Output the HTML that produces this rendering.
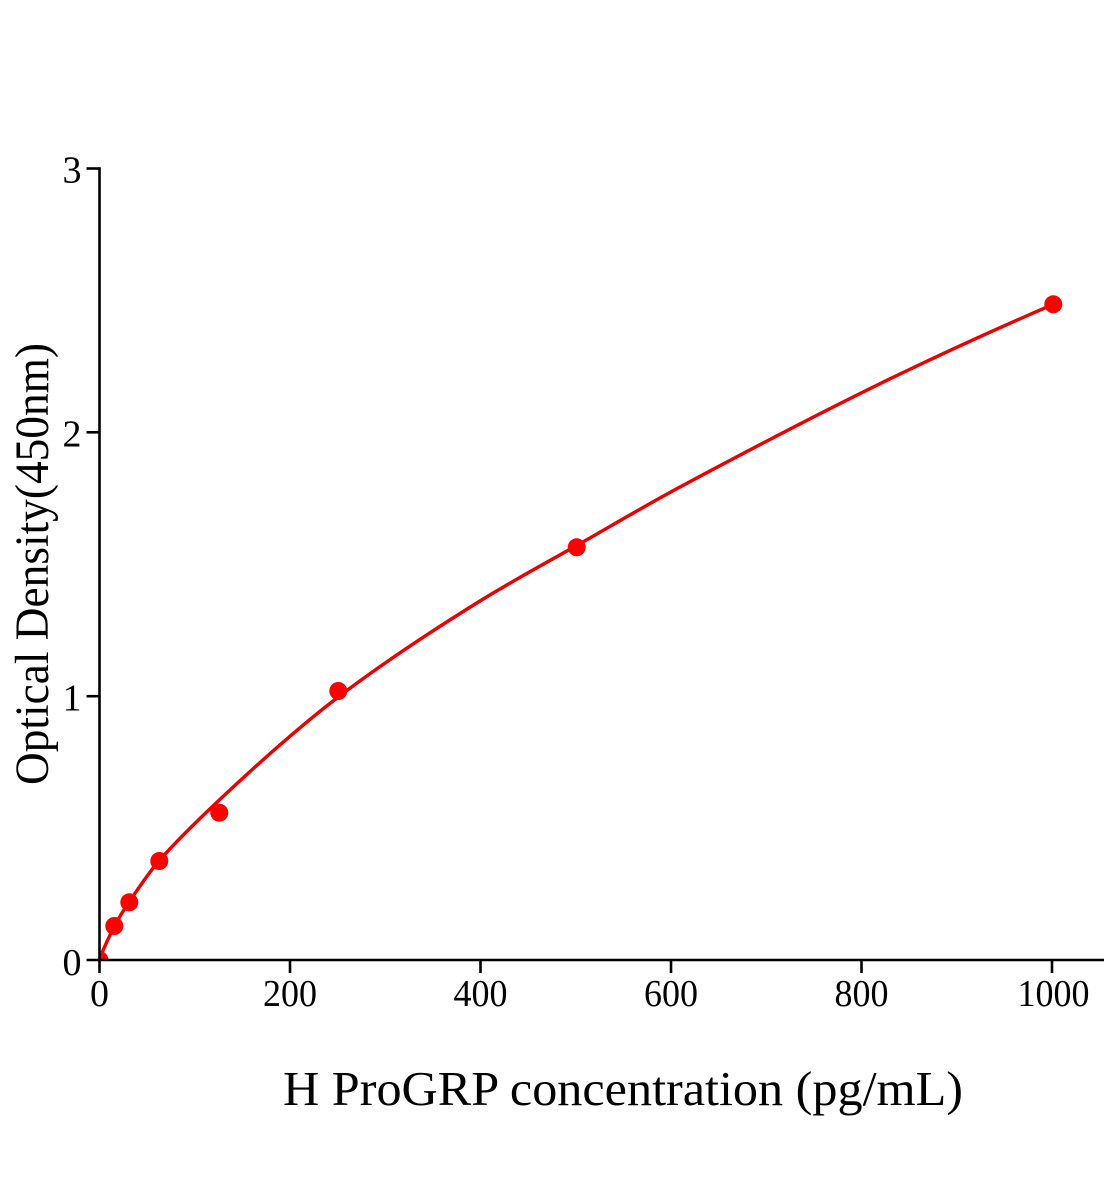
<!DOCTYPE html>
<html>
<head>
<meta charset="utf-8">
<style>
  html, body { margin: 0; padding: 0; background: #ffffff; }
  svg { display: block; }
  text { font-family: "Liberation Serif", "Times New Roman", serif; fill: #000; }
</style>
</head>
<body>
<svg width="1104" height="1200" viewBox="0 0 1104 1200" xmlns="http://www.w3.org/2000/svg">
  <rect x="0" y="0" width="1104" height="1200" fill="#ffffff"/>
  <defs>
    <clipPath id="plot">
      <rect x="100.5" y="0" width="1004" height="959"/>
    </clipPath>
  </defs>

  <!-- curve -->
  <path d="M99.5,959
           C104.43,946.67 109.37,935.97 114.3,926.5
           C119.3,916.9 124.3,909.05 129.3,901.7
           C139.3,887.0 149.3,871.8 159.3,860.5
           C179.3,837.9 199.3,818.8 219.3,800
           C258.97,762.71 298.63,727.15 338.3,697
           C385.53,661.1 432.77,630.28 480,601
           C512.23,581.02 544.47,563.77 576.7,545.5
           C611.13,525.98 645.57,505.42 680,487
           C753.33,447.77 826.67,409.2 900,374
           C951.1,349.47 1002.2,326.27 1053.3,304.3"
        fill="none" stroke="#ea0000" stroke-width="3.4" stroke-linejoin="round" stroke-linecap="round"/>

  <!-- data points -->
  <g fill="#ff0000">
    <circle cx="99.5" cy="960" r="9" clip-path="url(#plot)"/>
    <circle cx="114.3" cy="926" r="9"/>
    <circle cx="129.3" cy="902.3" r="9"/>
    <circle cx="159.3" cy="861" r="9"/>
    <circle cx="219.3" cy="812.7" r="9"/>
    <circle cx="338.3" cy="691" r="9"/>
    <circle cx="576.7" cy="547.3" r="9"/>
    <circle cx="1053.3" cy="304.3" r="9"/>
  </g>

  <!-- axes -->
  <g stroke="#000" stroke-width="2.6" fill="none">
    <line x1="99.5" y1="167.2" x2="99.5" y2="961.3"/>
    <line x1="86.5" y1="960" x2="1104" y2="960"/>
    <!-- y ticks -->
    <line x1="86.5" y1="168.5" x2="99.5" y2="168.5"/>
    <line x1="86.5" y1="432.3" x2="99.5" y2="432.3"/>
    <line x1="86.5" y1="696.2" x2="99.5" y2="696.2"/>
    <!-- x ticks -->
    <line x1="99.5" y1="960" x2="99.5" y2="973"/>
    <line x1="290" y1="960" x2="290" y2="973"/>
    <line x1="480.5" y1="960" x2="480.5" y2="973"/>
    <line x1="671" y1="960" x2="671" y2="973"/>
    <line x1="861.5" y1="960" x2="861.5" y2="973"/>
    <line x1="1052" y1="960" x2="1052" y2="973"/>
  </g>

  <!-- y tick labels -->
  <g font-size="38" text-anchor="end">
    <text x="81.5" y="975">0</text>
    <text x="81.5" y="710.5">1</text>
    <text x="81.5" y="446.5">2</text>
    <text x="81.5" y="182.5">3</text>
  </g>

  <!-- x tick labels -->
  <g font-size="38" text-anchor="middle">
    <text x="99.5" y="1006">0</text>
    <text x="290" y="1006" textLength="54" lengthAdjust="spacingAndGlyphs">200</text>
    <text x="480.5" y="1006" textLength="54" lengthAdjust="spacingAndGlyphs">400</text>
    <text x="671" y="1006" textLength="54" lengthAdjust="spacingAndGlyphs">600</text>
    <text x="861.5" y="1006" textLength="54" lengthAdjust="spacingAndGlyphs">800</text>
    <text x="1053.5" y="1006" textLength="72" lengthAdjust="spacingAndGlyphs">1000</text>
  </g>

  <!-- axis titles -->
  <text x="283" y="1105" font-size="49" textLength="680" lengthAdjust="spacingAndGlyphs">H ProGRP concentration (pg/mL)</text>
  <text transform="translate(48,564) rotate(-90)" x="0" y="0" font-size="48" text-anchor="middle" textLength="442" lengthAdjust="spacingAndGlyphs">Optical Density(450nm)</text>
</svg>
</body>
</html>
